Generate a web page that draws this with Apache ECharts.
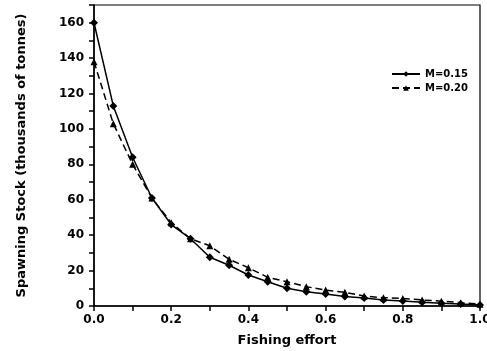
<!DOCTYPE html>
<html><head><meta charset="utf-8">
<script src="https://cdn.jsdelivr.net/npm/echarts@6/dist/echarts.min.js"></script>
<style>html,body{margin:0;padding:0;background:#fff}#c{width:487px;height:351px}</style>
</head><body><div id="c"></div>
<script>
const effort = [0.0,0.05,0.1,0.15,0.2,0.25,0.3,0.35,0.4,0.45,0.5,0.55,0.6,0.65,0.7,0.75,0.8,0.85,0.9,0.95,1.0];
const stockM015 = [160,113,84,61,46,38,27.5,23,17.5,13.7,10,8.1,6.8,5.3,4.5,3.4,2.8,2.1,1.5,1.1,0.6];
const stockM020 = [138,103,80,61,47,38,34,26.4,21.6,16.2,13.7,10.9,9.0,7.7,5.6,4.7,4.3,3.4,2.7,1.9,1.0];
const seriesNames = ['M=0.15','M=0.20'];
const xTitle = 'Fishing effort';
const yTitle = 'Spawning Stock (thousands of tonnes)';

const font = 'DejaVu Sans';
const chart = echarts.init(document.getElementById('c'));
chart.setOption({
  animation:false,
  backgroundColor:'#fff',
  grid:{left:94,right:7,top:5,bottom:45,show:true,borderColor:'#000',borderWidth:1.2,backgroundColor:'transparent',
        outerBoundsMode:'none',containLabel:false},
  legend:{
    orient:'vertical', right:14, top:64, itemWidth:28, itemHeight:7, itemGap:4,
    textStyle:{fontFamily:font,fontWeight:'bold',fontSize:10,color:'#000'},
    data:seriesNames
  },
  xAxis:{
    type:'value', min:0, max:1, interval:0.1,
    name:xTitle, nameLocation:'middle', nameGap:28,
    nameTextStyle:{fontFamily:font,fontWeight:'bold',fontSize:13,color:'#000'},
    axisLine:{lineStyle:{color:'#000',width:1.5}},
    axisTick:{show:true,length:5,lineStyle:{color:'#000',width:1.5}},
    splitLine:{show:false},
    axisLabel:{color:'#000',fontFamily:font,fontWeight:'bold',fontSize:12,margin:8,
      formatter:v=>{const k=Math.round(v*10);return k%2===0?(k/10).toFixed(1):'';}}
  },
  yAxis:{
    type:'value', min:0, max:170, interval:10,
    name:yTitle, nameLocation:'middle', nameGap:66,
    nameTextStyle:{fontFamily:font,fontWeight:'bold',fontSize:13,color:'#000'},
    axisLine:{lineStyle:{color:'#000',width:1.5}},
    axisTick:{show:true,length:5,lineStyle:{color:'#000',width:1.5}},
    splitLine:{show:false},
    axisLabel:{color:'#000',fontFamily:font,fontWeight:'bold',fontSize:12,margin:10,
      formatter:v=>(v%20===0&&v<=160)?String(v):''}
  },
  series:[
    {name:seriesNames[0],type:'line',data:effort.map((x,i)=>[x,stockM015[i]]),
     symbol:'diamond',symbolSize:8,
     lineStyle:{color:'#000',width:1.5,type:'solid'},itemStyle:{color:'#000'}},
    {name:seriesNames[1],type:'line',data:effort.map((x,i)=>[x,stockM020[i]]),
     symbol:'triangle',symbolSize:7,
     lineStyle:{color:'#000',width:1.5,type:[7,4]},itemStyle:{color:'#000'}}
  ]
});
</script></body></html>
